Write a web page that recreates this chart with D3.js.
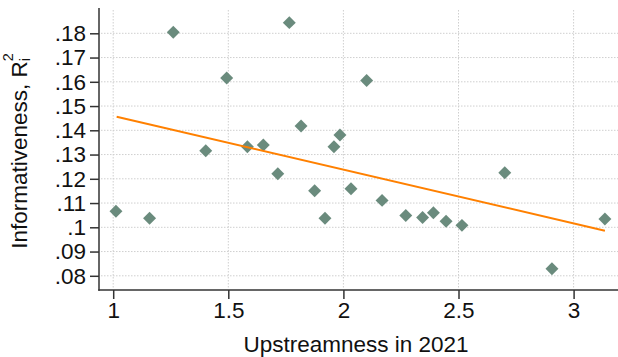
<!DOCTYPE html>
<html><head><meta charset="utf-8">
<script src="https://cdn.jsdelivr.net/npm/d3@7"></script>
<style>body{margin:0;background:#fff} svg{display:block} text{font-family:"Liberation Sans",Arial,sans-serif}</style>
</head><body><svg id="c" width="618" height="357"></svg>
<script>
const upstreamness = [1.012, 1.158, 1.261, 1.402, 1.493, 1.583, 1.652, 1.715, 1.765, 1.816, 1.875, 1.920, 1.959, 1.985, 2.033, 2.101, 2.168, 2.271, 2.344, 2.391, 2.446, 2.515, 2.701, 2.906, 3.136];
const informativeness = [0.1066, 0.1037, 0.1804, 0.1316, 0.1616, 0.1332, 0.1339, 0.1221, 0.1844, 0.1418, 0.1151, 0.1037, 0.1332, 0.1381, 0.1159, 0.1605, 0.1111, 0.1049, 0.1040, 0.1060, 0.1025, 0.1008, 0.1225, 0.0829, 0.1034];
const fitX = [1.015, 3.136];
const fitY = [0.1456, 0.0986];
const xTicks = [1, 1.5, 2, 2.5, 3];
const xTickLabels = ["1", "1.5", "2", "2.5", "3"];
const yTicks = [0.08, 0.09, 0.10, 0.11, 0.12, 0.13, 0.14, 0.15, 0.16, 0.17, 0.18];
const yTickLabels = [".08", ".09", ".1", ".11", ".12", ".13", ".14", ".15", ".16", ".17", ".18"];
const xTitle = "Upstreamness in 2021";
const yTitle = "Informativeness, R";

(function () {
const W = 618, H = 357;
const pL = 99, pR = 618, pT = 8, pB = 290;
const fs = 22.5;
const svg = d3.select("#c");
svg.append("rect").attr("width", W).attr("height", H).attr("fill", "#fff");

const x = d3.scaleLinear().domain([1, 3]).range([113.2, 573.6]);
const y = d3.scaleLinear().domain([0.08, 0.18]).range([275.8, 33.3]);

const grid = "#cfcfcf";
svg.append("g").selectAll("line").data(yTicks).join("line")
  .attr("x1", pL + 2).attr("x2", pR).attr("y1", d => y(d)).attr("y2", d => y(d))
  .attr("stroke", grid).attr("stroke-width", 1).attr("stroke-dasharray", "1.5,1.5");
svg.append("g").selectAll("line").data(xTicks).join("line")
  .attr("x1", d => x(d)).attr("x2", d => x(d)).attr("y1", pT + 2).attr("y2", pB - 1)
  .attr("stroke", grid).attr("stroke-width", 1).attr("stroke-dasharray", "1.5,1.5");

const xAxis = d3.axisBottom(x).tickValues(xTicks).tickFormat((d, i) => xTickLabels[i]).tickSize(9).tickPadding(3);
const gx = svg.append("g").attr("transform", `translate(0,${pB})`).call(xAxis);
gx.select(".domain").remove();
gx.selectAll("line").attr("stroke", "#333").attr("stroke-width", 1.5);
gx.selectAll("text").attr("font-size", fs).attr("fill", "#111").attr("font-family", "Liberation Sans, Arial, sans-serif");

const yAxis = d3.axisLeft(y).tickValues(yTicks).tickFormat((d, i) => yTickLabels[i]).tickSize(9).tickPadding(4);
const gy = svg.append("g").attr("transform", `translate(${pL},0)`).call(yAxis);
gy.select(".domain").remove();
gy.selectAll("line").attr("stroke", "#333").attr("stroke-width", 1.5);
gy.selectAll("text").attr("font-size", fs).attr("fill", "#111").attr("font-family", "Liberation Sans, Arial, sans-serif");

svg.append("line").attr("x1", pL).attr("x2", pL).attr("y1", pT).attr("y2", pB + 0.75)
  .attr("stroke", "#333").attr("stroke-width", 1.5);
svg.append("line").attr("x1", pL - 0.75).attr("x2", pR).attr("y1", pB).attr("y2", pB)
  .attr("stroke", "#333").attr("stroke-width", 1.5);

const pts = upstreamness.map((u, i) => [u, informativeness[i]]);
svg.append("g").selectAll("path").data(pts).join("path")
  .attr("d", d3.symbol(d3.symbolSquare, 84))
  .attr("transform", d => `translate(${x(d[0])},${y(d[1])}) rotate(45)`)
  .attr("fill", "#6a8b7d");

svg.append("path").datum(fitX.map((v, i) => [v, fitY[i]]))
  .attr("d", d3.line().x(d => x(d[0])).y(d => y(d[1])))
  .attr("fill", "none").attr("stroke", "#ff8000").attr("stroke-width", 2);

svg.append("text").attr("x", 356).attr("y", 352).attr("text-anchor", "middle")
  .attr("font-size", fs).attr("fill", "#111").text(xTitle);

const yt = svg.append("text").attr("transform", "translate(27,151) rotate(-90)").attr("text-anchor", "middle")
  .attr("font-size", fs).attr("fill", "#111");
yt.append("tspan").text(yTitle);
yt.append("tspan").attr("font-size", 14.5).attr("dy", -14).text("2");
yt.append("tspan").attr("font-size", 14.5).attr("dx", -8).attr("dy", 17).text("i");
})();
</script></body></html>
